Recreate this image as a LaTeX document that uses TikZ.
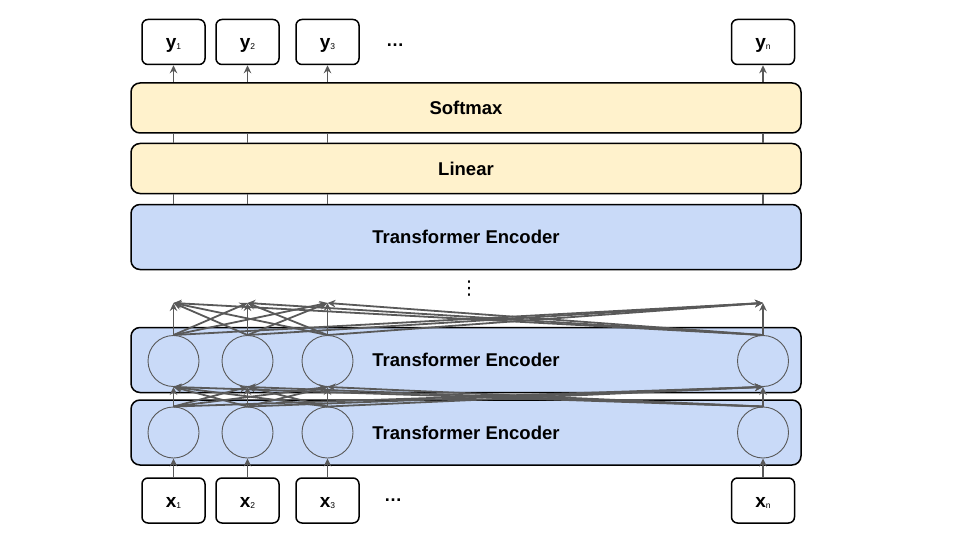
\documentclass[tikz,border=0pt]{standalone}
\usepackage{fontspec}
\setmainfont{Liberation Sans}
\newfontfamily\symfont{DejaVu Sans}
\usetikzlibrary{arrows.meta}
\definecolor{encblue}{HTML}{C9DAF8}
\definecolor{softyellow}{HTML}{FFF2CC}
\definecolor{arrowgray}{HTML}{595959}
\newcommand\tokname[2]{#1{\fontsize{8.5}{9}\selectfont\mdseries\raisebox{-1pt}{#2}}}
\tikzset{
 layer/.style={draw=black, line width=1.5pt, rounded corners=9pt, minimum width=670pt, inner sep=0pt, font=\fontsize{18.5}{18}\selectfont\bfseries},
 enc/.style={layer, fill=encblue, minimum height=65pt},
 ffl/.style={layer, fill=softyellow, minimum height=50pt},
 tok/.style={draw=black, line width=1.5pt, rounded corners=6pt, minimum width=63pt, minimum height=45pt, inner sep=0pt, text height=14pt, text depth=0pt, font=\fontsize{19}{18}\selectfont\bfseries},
 unit/.style={circle, draw=arrowgray, line width=0.9pt, minimum size=51pt, inner sep=0pt},
 conn/.style={draw=arrowgray, line width=1.8pt},
 arr/.style={conn, -{Stealth[length=8pt,width=7.5pt]}},
 dotsnode/.style={font=\fontsize{18}{18}\selectfont\bfseries, inner sep=0pt}
}
\begin{document}
\begin{tikzpicture}[x=1pt,y=-1pt]
\useasboundingbox (0,0) rectangle (960,540);
% layers
\node[ffl] (soft) at (466,108) {Softmax};
\node[ffl] (lin) at (466,168.5) {Linear};
\node[enc] (enc3) at (466,237) {Transformer Encoder};
\node[enc] (enc2) at (466,360) {Transformer Encoder};
\node[enc] (enc1) at (466,432.5) {Transformer Encoder};
\node[font=\symfont\fontsize{19}{19}\selectfont, inner sep=0pt] (vd) at (469,289) {⋮};
% tokens
\foreach \c/\x in {1/173.5,2/247.5,3/327.5,n/763}{
  \node[tok] (Y\c) at (\x,42) {\tokname{y}{\c}};
  \node[tok] (X\c) at (\x,500.5) {\tokname{x}{\c}};
  \node[unit] (M\c) at (\x,361) {};
  \node[unit] (L\c) at (\x,432.5) {};
  \coordinate (T\c) at (\x,303);
}
\node[dotsnode] (ydots) at (395,45) {…};
\node[dotsnode] (xdots) at (393,500) {…};
% connectors between stacked layers
\foreach \c in {1,2,3,n}{
  \draw[arr] (Y\c |- soft.north) -- (Y\c.south);
  \draw[conn] (Y\c |- soft.south) -- (Y\c |- lin.north);
  \draw[conn] (Y\c |- lin.south) -- (Y\c |- enc3.north);
  \draw[arr] (X\c.north) -- (L\c.south);
}
% attention connections
\foreach \i in {1,2,3,n}{
  \foreach \j in {1,2,3,n}{
    \draw[arr] (L\i.north) -- (M\j.south);
    \draw[arr] (M\i.north) -- (T\j);
  }
}
\end{tikzpicture}
\end{document}
